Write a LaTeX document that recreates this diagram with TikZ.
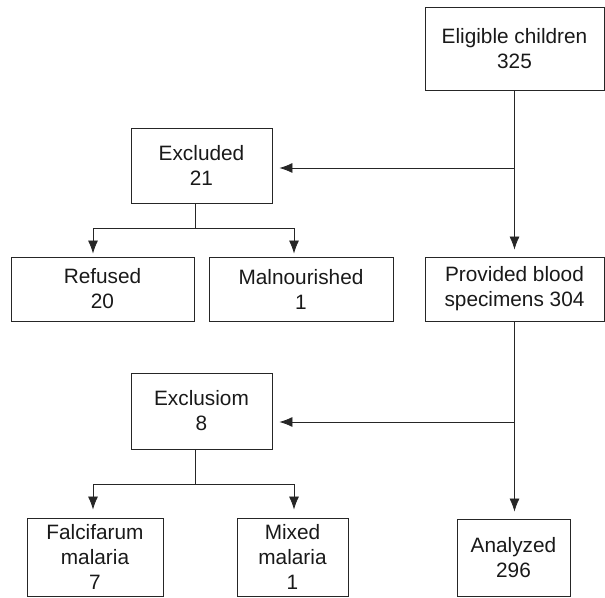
\documentclass[tikz,border=0pt]{standalone}
\usepackage{fontspec}
\setmainfont{Liberation Sans}
\usetikzlibrary{arrows.meta}
\begin{document}
\begin{tikzpicture}[x=1pt,y=1pt,
  box/.style={draw=black!85,line width=0.8pt,inner sep=0pt,align=center,text=black!90,font=\fontsize{20.8}{25}\selectfont},
  arr/.style={draw=black!85,line width=0.8pt,-{Latex[length=13pt,width=10pt]}},
  ln/.style={draw=black!85,line width=0.8pt}]
\useasboundingbox (0,0) rectangle (605,597);
\node[box,minimum width=179pt,minimum height=83pt] (elig) at (514.5,548.5) {Eligible children\\325};
\node[box,minimum width=179pt,minimum height=64pt] (prov) at (514.5,308) {Provided blood\\specimens 304};
\node[box,minimum width=113pt,minimum height=77pt] (anal) at (513.5,39.5) {Analyzed\\296};
\node[box,minimum width=141pt,minimum height=75pt] (excl1) at (201.5,431.5) {Excluded\\21};
\node[box,minimum width=183pt,minimum height=64pt] (refused) at (102.5,308) {Refused\\20};
\node[box,minimum width=184pt,minimum height=64pt] (maln) at (301,308) {Malnourished\\1};
\node[box,minimum width=141pt,minimum height=76pt] (excl2) at (201.5,186) {Exclusiom\\8};
\node[box,minimum width=136pt,minimum height=78pt] (falc) at (95,40) {Falcifarum\\malaria\\7};
\node[box,minimum width=111pt,minimum height=78pt] (mixed) at (292.5,40) {Mixed\\malaria\\1};

\coordinate (j1) at (514.5,429);
\coordinate (j2) at (514.5,175);
\coordinate (b1) at (195,369);
\coordinate (b2) at (195,113);

\draw[arr,shorten >=7pt] (elig.south) -- (prov.north);
\draw[arr,shorten >=7pt] (j1) -- (j1 -| excl1.east);
\draw[ln] (excl1.south -| b1) -- (b1);
\draw[arr,shorten >=3pt] (b1) -| ([xshift=-9.5pt]refused.north);
\draw[arr,shorten >=3pt] (b1) -| ([xshift=-7pt]maln.north);

\draw[arr,shorten >=7pt] (prov.south) -- (prov.south |- anal.north);
\draw[arr,shorten >=7pt] (j2) -- (j2 -| excl2.east);
\draw[ln] (excl2.south -| b2) -- (b2);
\draw[arr,shorten >=8pt] (b2) -| ([xshift=-2pt]falc.north);
\draw[arr,shorten >=8pt] (b2) -| ([xshift=1.5pt]mixed.north);
\end{tikzpicture}
\end{document}
